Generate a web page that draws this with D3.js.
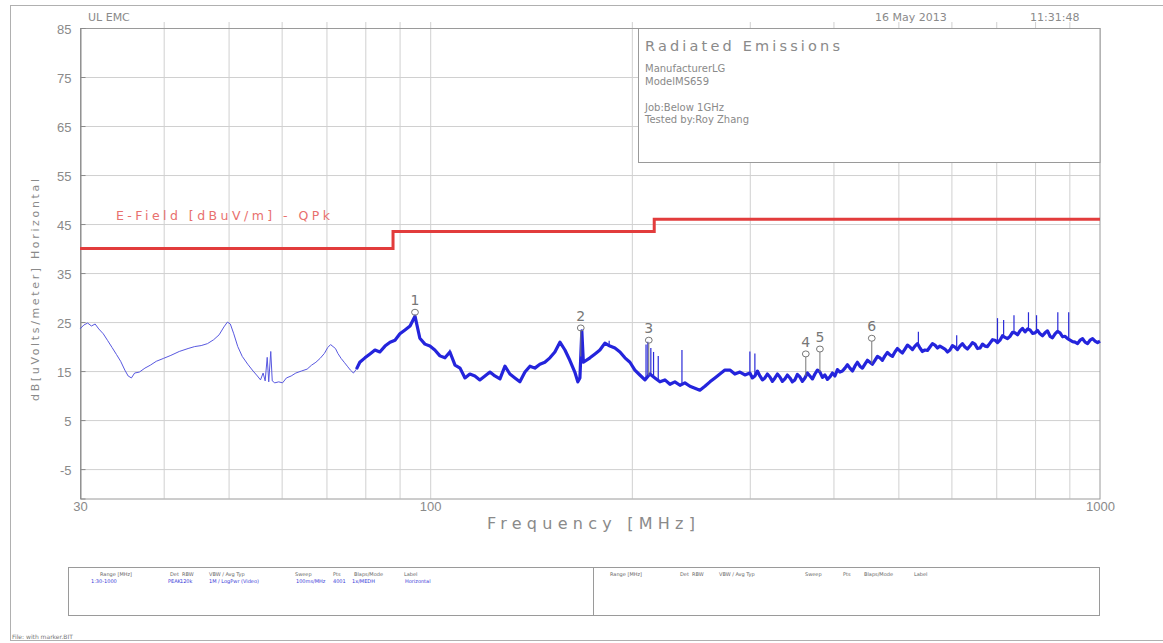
<!DOCTYPE html>
<html>
<head>
<meta charset="utf-8">
<script src="https://cdn.jsdelivr.net/npm/d3@7"></script>
<style>
  html, body { margin: 0; padding: 0; background: #fff; }
  svg { display: block; font-family: "DejaVu Sans", sans-serif; }
</style>
</head>
<body>
<script>
// axis values
const yTicks = [85, 75, 65, 55, 45, 35, 25, 15, 5, -5];
const xTickLabels = [30, 100, 1000];
const xGrid = [40, 50, 60, 70, 80, 90, 100, 200, 300, 400, 500, 600, 700, 800, 900];

// limit line (E-Field QPk)
const limitMHz = [30, 88, 88, 216, 216, 1000];
const limitDb = [40, 40, 43.5, 43.5, 46, 46];

const trace = [
  [30, 23.6], [30.4, 24.4], [30.8, 24.8], [31.2, 24.2], [31.6, 24.6], [32.0, 23.6], [32.5, 22.6],
  [33.0, 21.2], [33.5, 19.8], [34.0, 18.4], [34.5, 17.0], [35.0, 15.2], [35.4, 14.0], [35.8, 13.6],
  [36.2, 14.6], [36.8, 14.8], [37.5, 15.6], [38.2, 16.2], [39.0, 17.0], [40.0, 17.6], [41.0, 18.2],
  [42.2, 19.0], [43.5, 19.6], [44.5, 20.0], [45.5, 20.2], [46.5, 20.6], [47.5, 21.4], [48.4, 22.4],
  [49.2, 24.0], [49.8, 25.0], [50.3, 24.6], [50.9, 22.6], [51.6, 20.0], [52.4, 18.0], [53.4, 16.4],
  [54.4, 15.0], [55.2, 14.0], [55.8, 13.2], [56.3, 14.6], [56.7, 13.0], [57.1, 17.8], [57.4, 12.8],
  [57.8, 19.0], [58.1, 13.0], [58.6, 12.6], [59.4, 12.8], [60.2, 12.6], [61.0, 13.6], [62.0, 14.0],
  [63.0, 14.6], [64.2, 15.0], [65.5, 15.4], [66.5, 16.2], [67.5, 16.8], [68.5, 17.6], [69.5, 18.6],
  [70.3, 19.8], [71.0, 20.4], [71.6, 20.0], [72.2, 19.6], [72.8, 18.6], [73.6, 17.6], [74.4, 16.8],
  [75.2, 16.0], [76.0, 15.2], [76.8, 14.6], [77.6, 15.4],
  [78.5, 16.8], [79.9, 17.7], [81.3, 18.5], [82.7, 19.3], [84.1, 18.9], [85.6, 20.1], [87.1, 20.9],
  [88.6, 21.3], [90.1, 22.6], [91.7, 23.4], [93.3, 24.2], [94.9, 26.2], [96.5, 21.7], [98.2, 20.5],
  [99.9, 20.1], [101.6, 19.3], [103.4, 18.1], [105.2, 17.7], [107.0, 18.9], [108.9, 16.2], [110.8, 15.6],
  [112.7, 13.6], [114.6, 14.4], [116.6, 14.0], [118.6, 13.2], [120.7, 14.0], [122.8, 14.8], [124.9, 14.0],
  [127.1, 13.4], [129.3, 16.0], [131.5, 14.4], [133.8, 13.6], [136.1, 12.8], [138.5, 14.8], [140.9, 16.0],
  [143.3, 15.6], [145.8, 16.4], [148.3, 16.8], [150.9, 17.7], [153.5, 18.9], [156.2, 20.9], [158.9, 19.3],
  [161.6, 17.2], [164.4, 14.8], [166.1, 12.8], [167.3, 13.6], [168.4, 23.2], [169.3, 16.8], [173.2, 17.7],
  [176.2, 18.5], [179.2, 19.3], [182.3, 20.7], [185.5, 20.1], [188.7, 19.7], [192.0, 18.9], [195.3, 17.7],
  [198.7, 16.8], [202.1, 15.2], [205.6, 14.2], [209.2, 13.2], [212.8, 14.4], [216.5, 13.6], [220.3, 12.8],
  [224.1, 13.2], [228.0, 12.3], [231.9, 12.8], [236.0, 12.1], [240.0, 12.6], [244.2, 11.9], [248.4, 11.5],
  [252.7, 11.1], [257.1, 11.9], [261.6, 12.8], [266.1, 13.6], [270.7, 14.4], [275.4, 15.2], [280.2, 15.2],
  [285.0, 14.4], [290.0, 14.8], [295.0, 14.2],
  [300.1, 14.6], [302.7, 13.6], [305.3, 14.0], [308.0, 15.0], [310.6, 14.0], [313.3, 13.2], [316.0, 13.6],
  [318.7, 14.4], [321.5, 13.8], [324.3, 12.9], [327.1, 13.6], [329.9, 14.4], [332.7, 13.8], [335.6, 12.9],
  [338.5, 13.4], [341.4, 14.2], [344.4, 13.6], [347.3, 12.8], [350.3, 13.2], [353.3, 14.3], [356.4, 13.8],
  [359.5, 12.9], [362.6, 13.6], [365.7, 14.6], [368.9, 14.0], [372.1, 13.4], [375.3, 14.4], [378.5, 15.2],
  [381.8, 14.8], [385.1, 13.7], [388.4, 14.2], [391.8, 13.3], [395.2, 13.8], [398.6, 14.6], [402.0, 14.0],
  [405.5, 15.3], [409.0, 14.8], [412.5, 15.0], [416.1, 15.6], [419.7, 16.3], [423.3, 15.6], [427.0, 15.0],
  [430.6, 16.0], [434.3, 16.8], [438.1, 16.0], [441.9, 15.6], [445.7, 16.4], [449.5, 17.2], [453.4, 16.8],
  [457.3, 16.4], [461.3, 17.2], [465.3, 18.0], [469.3, 17.7], [473.3, 17.2], [477.4, 18.1], [481.5, 18.8],
  [485.7, 18.3], [489.9, 18.0], [494.1, 18.9], [498.4, 19.6], [502.7, 19.1], [507.0, 18.7], [511.4, 19.5],
  [515.8, 20.3], [520.3, 19.9], [524.8, 19.4], [529.3, 20.1], [533.9, 20.6], [538.5, 19.7], [543.1, 19.0],
  [547.8, 19.3], [552.5, 19.2], [557.3, 19.9], [562.1, 20.6], [567.0, 20.3], [571.9, 19.7], [576.8, 20.1],
  [581.8, 19.8], [586.8, 19.5], [591.9, 18.9], [597.0, 19.3], [602.2, 20.2], [607.4, 19.9], [612.6, 19.4],
  [617.9, 20.1], [623.2, 20.6], [628.6, 19.9], [634.0, 19.5], [639.5, 20.1], [645.0, 20.8], [650.6, 20.5],
  [656.2, 19.6], [661.9, 19.7], [667.6, 20.5], [673.4, 20.1], [679.2, 20.0], [685.1, 20.7], [691.0, 21.4],
  [697.0, 21.3], [703.0, 20.8], [709.1, 21.3], [715.2, 22.2], [721.4, 21.9], [727.6, 21.6], [733.9, 22.1],
  [740.2, 22.9], [746.6, 22.8], [753.1, 22.4], [759.6, 23.2], [766.2, 23.7], [772.8, 23.0], [779.5, 23.6],
  [786.2, 23.4], [793.0, 22.7], [799.8, 22.8], [806.7, 23.3], [813.7, 22.6], [820.7, 22.2], [827.8, 22.8],
  [835.0, 23.2], [842.2, 22.1], [849.5, 21.8], [856.8, 22.6], [864.2, 23.1], [871.7, 22.8], [879.2, 22.0],
  [886.8, 22.1], [894.5, 21.6], [902.2, 21.3], [910.0, 21.0], [917.8, 20.9], [925.8, 20.6], [933.8, 21.3],
  [941.9, 21.6], [950.0, 20.9], [958.2, 20.6], [966.4, 21.3], [974.8, 21.6], [983.2, 21.1], [991.6, 20.8],
  [1000, 21.1]
];

// narrow spikes [MHz, peak dBuV/m]
const spikes = [
  [107.0, 19.4], [185.0, 21.2], [210.0, 20.4], [211.3, 21.0], [213.5, 19.7], [215.5, 18.9], [219.0, 18.1],
  [237.6, 19.3], [300.1, 19.0], [305.3, 18.6], [535.6, 23.0], [611.0, 22.3], [703.0, 25.8], [718.0, 25.4],
  [744.0, 26.4], [782.0, 27.0], [804.0, 26.4], [865.0, 27.0], [898.0, 27.0]
];

// markers
const markerNo = [1, 2, 3, 4, 5, 6];
const markerMHz = [94.9, 167.8, 212.0, 363.7, 381.8, 456.3];
const markerDb = [27.0, 23.8, 21.3, 18.5, 19.5, 21.7];

const infoLines = ["ManufacturerLG", "ModelMS659", "", "Job:Below 1GHz", "Tested by:Roy Zhang"];
const tableHead = [["Range [MHz]", 0], ["Det", 70], ["RBW", 82], ["VBW / Avg Typ", 109], ["Sweep", 195], ["Pts", 233], ["Blaps/Mode", 254], ["Label", 304]];
const tableRow = [["1:30-1000", -9], ["PEAK", 68], ["120k", 80], ["1M / LogPwr (Video)", 109], ["100ms/MHz", 196], ["4001", 233], ["1x/MEDH", 252], ["Horizontal", 305]];

const W = 1163, H = 643;
const gray = "#8a8a8a";
const svg = d3.select("body").append("svg").attr("width", W).attr("height", H);

const x = d3.scaleLog().domain([30, 1000]).range([80, 1100]);
const y = d3.scaleLinear().domain([-11, 85]).range([498.5, 28]);
const [y0, y1] = y.range();

// outer frame
svg.append("rect").attr("x", 10.5).attr("y", 5.5).attr("width", 1165).attr("height", 635)
  .attr("fill", "none").attr("stroke", "#b0b0b0");

// grid
svg.append("g").attr("transform", `translate(0,${y0})`)
  .call(d3.axisBottom(x).tickValues(xGrid).tickSize(-(y0 - y1) - 6).tickFormat(""))
  .call(g => g.select(".domain").remove())
  .call(g => g.selectAll("line").attr("stroke", "#d0d0d0"));
svg.append("g").attr("transform", "translate(80,0)")
  .call(d3.axisLeft(y).tickValues(yTicks.slice(1)).tickSize(-1020).tickFormat(""))
  .call(g => g.select(".domain").remove())
  .call(g => g.selectAll("line").attr("stroke", "#d0d0d0"));

// plot frame
svg.append("rect").attr("x", 80.5).attr("y", y1 + 0.5).attr("width", 1019.5).attr("height", y0 - y1)
  .attr("fill", "none").attr("stroke", "#9a9a9a");

// y axis
svg.append("g").attr("transform", "translate(80.5,0)")
  .call(d3.axisLeft(y).tickValues(yTicks).tickSize(-5).tickPadding(9).tickFormat(d => String(d)))
  .call(g => g.select(".domain").attr("stroke", "#8a8a8a"))
  .call(g => g.selectAll("line").attr("stroke", "#8a8a8a"))
  .call(g => g.selectAll("text").attr("fill", gray).attr("font-size", 13).attr("dy", "0.4em"));

// x axis labels
svg.append("g").attr("transform", `translate(0,${y0})`)
  .call(d3.axisBottom(x).tickValues(xTickLabels).tickSize(0).tickPadding(3).tickFormat(d3.format("d")))
  .call(g => g.select(".domain").remove())
  .call(g => g.selectAll("text").attr("fill", gray).attr("font-size", 13));

// info box
svg.append("rect").attr("x", 638.5).attr("y", y1 + 0.5).attr("width", 461.5).attr("height", 134)
  .attr("fill", "#fff").attr("stroke", "#9a9a9a");
svg.append("text").attr("x", 645).attr("y", 51).attr("fill", gray).attr("font-size", 14.5)
  .attr("textLength", 195).attr("lengthAdjust", "spacing").text("Radiated Emissions");
svg.append("g").selectAll("text").data(infoLines).join("text")
  .attr("x", 645).attr("y", (d, i) => 72 + i * 12.5 + (i > 2 ? 1 : 0))
  .attr("fill", gray).attr("font-size", 10).text(d => d);

// header texts
svg.append("text").attr("x", 88).attr("y", 21).attr("fill", gray).attr("font-size", 11).text("UL EMC");
svg.append("text").attr("x", 875).attr("y", 21).attr("fill", gray).attr("font-size", 11).text("16 May 2013");
svg.append("text").attr("x", 1030).attr("y", 21).attr("fill", gray).attr("font-size", 11).text("11:31:48");

// axis titles
svg.append("text").attr("transform", "translate(39,290) rotate(-90)").attr("text-anchor", "middle")
  .attr("fill", gray).attr("font-size", 11).attr("textLength", 222).attr("lengthAdjust", "spacing")
  .text("dB[uVolts/meter] Horizontal");
svg.append("text").attr("x", 591).attr("y", 529).attr("text-anchor", "middle")
  .attr("fill", gray).attr("font-size", 16).attr("textLength", 208).attr("lengthAdjust", "spacing")
  .text("Frequency [MHz]");

// limit line
const limitLine = d3.line().x(i => x(limitMHz[i])).y(i => y(limitDb[i]));
svg.append("path").attr("d", limitLine(d3.range(limitMHz.length)))
  .attr("fill", "none").attr("stroke", "#e23c3c").attr("stroke-width", 3);
svg.append("text").attr("x", 116).attr("y", 220).attr("fill", "#e8706e").attr("font-size", 12.5)
  .attr("textLength", 214).attr("lengthAdjust", "spacing").text("E-Field [dBuV/m] - QPk");

// trace
const line = d3.line().x(d => x(d[0])).y(d => y(d[1]));
svg.append("path").attr("d", line(trace.filter(d => d[0] <= 79)))
  .attr("fill", "none").attr("stroke", "#5858e0").attr("stroke-width", 1);
svg.append("path").attr("d", line(trace.filter(d => d[0] >= 77.6)))
  .attr("fill", "none").attr("stroke", "#2424dc").attr("stroke-width", 3.2).attr("stroke-linejoin", "round");

const traceAt = f => {
  const i = d3.bisector(d => d[0]).left(trace, f);
  const a = trace[Math.max(0, i - 1)], b = trace[Math.min(trace.length - 1, i)];
  if (a === b) return a[1];
  const t = (Math.log(f) - Math.log(a[0])) / (Math.log(b[0]) - Math.log(a[0]));
  return a[1] + t * (b[1] - a[1]);
};
svg.append("g").selectAll("line").data(spikes).join("line")
  .attr("x1", d => x(d[0])).attr("x2", d => x(d[0]))
  .attr("y1", d => y(traceAt(d[0]))).attr("y2", d => y(d[1]))
  .attr("stroke", "#2a2ad8").attr("stroke-width", 1.2);

// markers
const mk = svg.append("g").selectAll("g").data(markerNo).join("g")
  .attr("transform", (d, i) => `translate(${x(markerMHz[i])},${y(markerDb[i])})`);
mk.append("line").attr("x1", 0).attr("x2", 0).attr("y1", 3)
  .attr("y2", (d, i) => Math.max(3, y(traceAt(markerMHz[i])) - y(markerDb[i])))
  .attr("stroke", "#777");
mk.append("ellipse").attr("rx", 3.4).attr("ry", 3).attr("fill", "none").attr("stroke", "#777");
mk.append("text").attr("y", -7).attr("text-anchor", "middle").attr("fill", "#777")
  .attr("font-size", 14).text(d => d);

// bottom table
svg.append("rect").attr("x", 68.5).attr("y", 567.5).attr("width", 1031).attr("height", 48)
  .attr("fill", "none").attr("stroke", "#9a9a9a");
svg.append("line").attr("x1", 593.5).attr("x2", 593.5).attr("y1", 567.5).attr("y2", 615.5).attr("stroke", "#9a9a9a");
[100, 610].forEach(x0 => {
  svg.append("g").selectAll("text").data(tableHead).join("text")
    .attr("x", d => x0 + d[1]).attr("y", 576).attr("fill", "#666").attr("font-size", 5).text(d => d[0]);
});
svg.append("g").selectAll("text").data(tableRow).join("text")
  .attr("x", d => 100 + d[1]).attr("y", 583).attr("fill", "#3a3ad8").attr("font-size", 5).text(d => d[0]);

svg.append("text").attr("x", 12).attr("y", 639).attr("fill", "#777").attr("font-size", 6).text("File: with marker.BIT");
</script>
</body>
</html>
